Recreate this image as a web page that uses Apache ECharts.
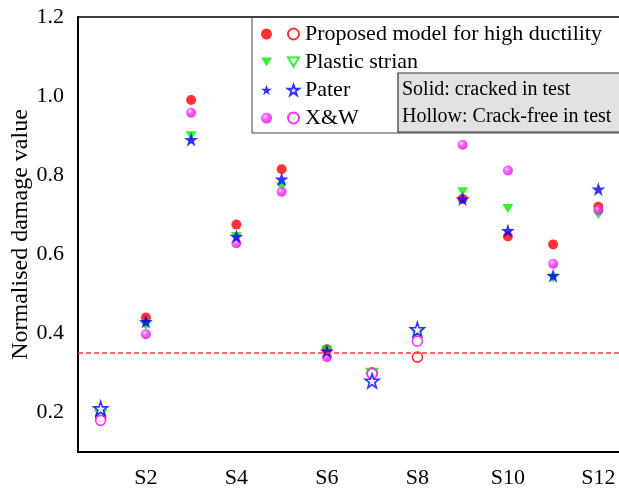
<!DOCTYPE html>
<html>
<head>
<meta charset="utf-8">
<script src="https://cdn.jsdelivr.net/npm/echarts@6/dist/echarts.min.js"></script>
<style>html,body{margin:0;padding:0;background:#fff}#c{width:619px;height:492px}</style>
</head>
<body>
<div id="c"></div>
<script>
// ---- data ----
var categories = ['S1','S2','S3','S4','S5','S6','S7','S8','S9','S10','S11','S12'];
var cracked = [false,true,true,true,true,true,false,false,true,true,true,true];
var proposed = [0.19, 0.44, 0.99, 0.675, 0.815, 0.36, 0.30, 0.34, 0.74, 0.645, 0.625, 0.72];
var plastic  = [0.195, 0.42, 0.90, 0.645, 0.77, 0.357, 0.30, 0.40, 0.758, 0.716, 0.54, 0.70];
var pater    = [0.21, 0.43, 0.89, 0.645, 0.79, 0.355, 0.28, 0.41, 0.74, 0.66, 0.546, 0.765];
var xw       = [0.18, 0.398, 0.958, 0.628, 0.758, 0.34, 0.298, 0.38, 0.877, 0.812, 0.576, 0.712];
var threshold = 0.35;
var yTicks = ['0.2','0.4','0.6','0.8','1.0','1.2'];
var modelNames = ['Proposed model for high ductility','Plastic strian','Pater','X&W'];

// ---- styling ----
var FONT = "'Liberation Serif','Times New Roman',serif";
var STAR = 'path://M50,0 L61.8,35.1 L98.1,35.1 L68.8,56.8 L79.4,91.2 L50,70 L20.6,91.2 L31.2,56.8 L1.9,35.1 L38.2,35.1 Z';
var TRI_DOWN = 'path://M0,0 L12,0 L6,10 Z';
var models = [
  {key:'p', vals:proposed, color:'#ff0000', symbol:'circle', size:10},
  {key:'g', vals:plastic,  color:'#00ee00', symbol:TRI_DOWN, size:[11,9]},
  {key:'x', vals:xw,       color:'#ff00ff', symbol:'circle', size:10, ball:true},
  {key:'b', vals:pater,    color:'#0000ff', symbol:STAR, size:14}
];
var nameMap = {p:modelNames[0], g:modelNames[1], b:modelNames[2], x:modelNames[3]};
var iconMap = {p:'circle', g:TRI_DOWN, b:STAR, x:'circle'};

function ptsFor(vals, solid){
  var out = [];
  for (var i=0;i<categories.length;i++){
    if (cracked[i] === solid) out.push([categories[i], vals[i]]);
  }
  return out;
}

var series = [];
models.forEach(function(m){
  var solidStyle = m.ball ? {
      color: {type:'radial', x:0.38, y:0.35, r:0.7, colorStops:[
        {offset:0,color:'#ffd8ff'},{offset:0.35,color:'#ff40ff'},{offset:1,color:'#e000e0'}]}
    } : {color:m.color};
  series.push({
    type:'scatter', name:m.key+'_s', data:ptsFor(m.vals,true),
    symbol:m.symbol, symbolSize:m.size,
    itemStyle:solidStyle, z: 3
  });
  series.push({
    type:'scatter', name:m.key+'_h', data:ptsFor(m.vals,false),
    symbol:m.symbol, symbolSize:m.size,
    itemStyle:{color:'#ffffff', borderColor:m.color, borderWidth:1.6}, z: 3
  });
});
series[0].markLine = {
  silent:true, symbol:'none', label:{show:false},
  lineStyle:{color:'#ff3b3b', type:[5,3], width:1.5},
  data:[{yAxis:threshold}]
};

var legendOrder = ['p','g','b','x'];
var chart = echarts.init(document.getElementById('c'), null, {renderer:'canvas'});
chart.setOption({
  animation:false,
  backgroundColor:'#fff',
  grid:{left:78, right:-2, top:17, bottom:40, show:true, borderColor:'#000', borderWidth:1.5,
        outerBoundsMode:'none', containLabel:false},
  xAxis:[{
    type:'category', data:categories, boundaryGap:true,
    axisLine:{lineStyle:{color:'#000', width:2}},
    axisTick:{alignWithLabel:true, interval:function(i){return i%2===1;}, length:5, lineStyle:{color:'#000', width:1.5}},
    axisLabel:{interval:function(i){return i%2===1;}, color:'#000', fontFamily:FONT, fontSize:22, margin:15},
    splitLine:{show:false}
  },{
    type:'category', data:categories, boundaryGap:true, position:'bottom',
    axisLine:{show:false},
    axisTick:{alignWithLabel:true, interval:0, length:3, lineStyle:{color:'#000', width:1.5}},
    axisLabel:{show:false}, splitLine:{show:false}
  }],
  yAxis:{
    type:'value', min:0.1, max:1.2, interval:0.1,
    name:'Normalised damage value', nameLocation:'middle', nameGap:45, nameRotate:90,
    nameMoveOverlap:false,
    nameTextStyle:{color:'#000', fontFamily:FONT, fontSize:24},
    axisLine:{show:true, lineStyle:{color:'#000', width:2}},
    axisTick:{length:5, lineStyle:{color:'#000', width:1.5}},
    axisLabel:{color:'#000', fontFamily:FONT, fontSize:22, margin:14,
      formatter:function(v){var s=v.toFixed(1); return yTicks.indexOf(s)>=0 ? s : '';}},
    splitLine:{show:false}
  },
  legend:[{
    orient:'vertical', left:256, top:18, selectedMode:false,
    itemWidth:11, itemHeight:11, itemGap:6,
    data:legendOrder.map(function(k){return {name:k+'_s', icon:iconMap[k]};}),
    formatter:function(){return ' ';},
    textStyle:{fontFamily:FONT, fontSize:22, lineHeight:22}
  },{
    orient:'vertical', left:282, top:18, selectedMode:false,
    itemWidth:11, itemHeight:11, itemGap:6,
    data:legendOrder.map(function(k){return {name:k+'_h', icon:iconMap[k]};}),
    formatter:function(n){return nameMap[n.charAt(0)];},
    textStyle:{fontFamily:FONT, fontSize:22, lineHeight:22, color:'#000', padding:[0,0,0,1]}
  }],
  graphic:[
    {type:'rect', shape:{x:252, y:17, width:380, height:116}, style:{fill:'rgba(0,0,0,0)', stroke:'#444', lineWidth:1}, z:1},
    {type:'rect', shape:{x:398, y:73, width:240, height:59}, style:{fill:'#e2e2e2', stroke:'#333', lineWidth:1.2}, z:10},
    {type:'text', x:402, y:90, style:{text:'Solid: cracked in test', fill:'#000', font:'20px '+FONT, textVerticalAlign:'middle'}, z:11},
    {type:'text', x:402, y:117, style:{text:'Hollow: Crack-free in test', fill:'#000', font:'20px '+FONT, textVerticalAlign:'middle'}, z:11}
  ],
  series:series
});
</script>
</body>
</html>
